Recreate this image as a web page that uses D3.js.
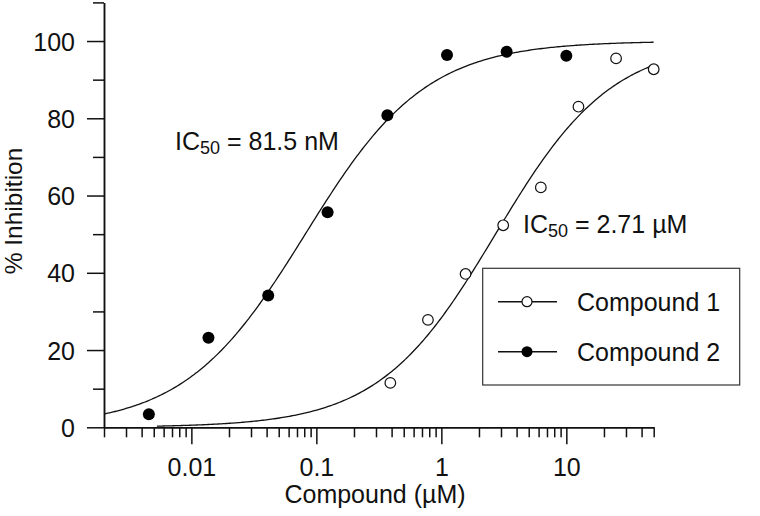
<!DOCTYPE html>
<html>
<head>
<meta charset="utf-8">
<script src="https://cdn.jsdelivr.net/npm/d3@7/dist/d3.min.js"></script>
<style>
  html, body { margin: 0; padding: 0; background: #fff; }
  svg { display: block; }
  text { font-family: "Liberation Sans", Arial, sans-serif; fill: #111; }
</style>
</head>
<body>
<svg id="chart" width="760" height="516"></svg>
<script>
// ---- data ----
const seriesNames = ["Compound 1", "Compound 2"];
const conc1 = [0.390625, 0.78125, 1.5625, 3.125, 6.25, 12.5, 25, 50];
const inhib1 = [11.5, 27.8, 39.7, 52.3, 62.1, 83.0, 95.5, 92.7];
const conc2 = [0.00457, 0.0137, 0.0412, 0.123, 0.370, 1.11, 3.33, 10];
const inhib2 = [3.4, 23.2, 34.1, 55.7, 80.8, 96.4, 97.2, 96.2];
// fitted dose-response parameters (IC50 in µM, Hill slope, fit range)
const fitIC50 = [2.71, 0.0815];
const fitHill = [0.93, 0.90];
const fitFrom = [0.0053, 0.002];
const fitTo = [50, 50];
const ic50Labels = [["IC", "50", " = 2.71 µM"], ["IC", "50", " = 81.5 nM"]];
const xMajorTicks = [0.01, 0.1, 1, 10];
const xTickLabels = ["0.01", "0.1", "1", "10"];
const yMajorTicks = [0, 20, 40, 60, 80, 100];
const yMinorTicks = [10, 30, 50, 70, 90, 110];

const svg = d3.select("#chart");
const x = d3.scaleLog().domain([0.002, 50]).range([104, 653.7]);
const y = d3.scaleLinear().domain([0, 110]).range([427.3, 2.4]);

// minor x ticks: 2..9 of each decade within the domain
const xMinorTicks = [];
[0.001, 0.01, 0.1, 1, 10].forEach(d => {
  for (let k = 2; k <= 9; k++) {
    const v = +(d * k).toPrecision(3);
    if (v >= 0.002 - 1e-9 && v <= 50 + 1e-9) xMinorTicks.push(v);
  }
});

const axisStyle = g => {
  g.selectAll("path, line").attr("stroke", "#111").attr("stroke-width", 1.5);
  g.selectAll("text").attr("font-size", 25).attr("fill", "#111")
    .attr("font-family", '"Liberation Sans", Arial, sans-serif');
};

// x axis
svg.append("g").attr("transform", `translate(0,${y(0)})`)
  .call(d3.axisBottom(x).tickValues(xMinorTicks).tickSize(10).tickSizeOuter(0).tickFormat(""))
  .call(axisStyle);
const gx = svg.append("g").attr("transform", `translate(0,${y(0)})`)
  .call(d3.axisBottom(x).tickValues(xMajorTicks).tickSize(17).tickSizeOuter(0)
    .tickFormat((d, i) => xTickLabels[i]))
  .call(axisStyle);
gx.selectAll("text").attr("y", 49).attr("dy", 0);

// y axis
svg.append("g").attr("transform", `translate(${x(0.002)},0)`)
  .call(d3.axisLeft(y).tickValues(yMinorTicks).tickSize(11).tickSizeOuter(0).tickFormat(""))
  .call(axisStyle);
const gy = svg.append("g").attr("transform", `translate(${x(0.002)},0)`)
  .call(d3.axisLeft(y).tickValues(yMajorTicks).tickSize(17).tickPadding(12).tickSizeOuter(0))
  .call(axisStyle);
gy.selectAll("text").attr("dy", "0.36em");

// axis titles
svg.append("text").attr("x", 375).attr("y", 503).attr("text-anchor", "middle")
  .attr("font-size", 25).text("Compound (µM)");
svg.append("text").attr("transform", "translate(22,211) rotate(-90)")
  .attr("text-anchor", "middle").attr("font-size", 24.5).text("% Inhibition");

// fitted curves
const line = d3.line().x(d => x(d[0])).y(d => y(d[1]));
[0, 1].forEach(i => {
  const lo = Math.log10(fitFrom[i]), hi = Math.log10(fitTo[i]);
  const pts = d3.range(0, 301).map(k => {
    const c = Math.pow(10, lo + (hi - lo) * k / 300);
    return [c, 100 / (1 + Math.pow(fitIC50[i] / c, fitHill[i]))];
  });
  svg.append("path").attr("d", line(pts)).attr("fill", "none")
    .attr("stroke", "#111").attr("stroke-width", 1.3);
});

// data points
const pts1 = conc1.map((c, i) => [c, inhib1[i]]);
const pts2 = conc2.map((c, i) => [c, inhib2[i]]);
svg.append("g").selectAll("circle").data(pts2).join("circle")
  .attr("cx", d => x(d[0])).attr("cy", d => y(d[1])).attr("r", 6)
  .attr("fill", "#000");
svg.append("g").selectAll("circle").data(pts1).join("circle")
  .attr("cx", d => x(d[0])).attr("cy", d => y(d[1])).attr("r", 5.3)
  .attr("fill", "#fff").attr("stroke", "#111").attr("stroke-width", 1.2);

// IC50 annotations
const labelPos = [[523, 233], [175, 150]];
[0, 1].forEach(i => {
  const t = svg.append("text").attr("x", labelPos[i][0]).attr("y", labelPos[i][1])
    .attr("font-size", 25);
  t.append("tspan").text(ic50Labels[i][0]);
  t.append("tspan").attr("font-size", 18).attr("dy", 4).text(ic50Labels[i][1]);
  t.append("tspan").attr("dy", -4).text(ic50Labels[i][2]);
});

// legend
const lg = svg.append("g");
lg.append("rect").attr("x", 482.7).attr("y", 268.3).attr("width", 257).attr("height", 116.7)
  .attr("fill", "#fff").attr("stroke", "#333").attr("stroke-width", 1.2);
const rows = [301.7, 351.7];
seriesNames.forEach((name, i) => {
  lg.append("line").attr("x1", 498).attr("x2", 557).attr("y1", rows[i]).attr("y2", rows[i])
    .attr("stroke", "#111").attr("stroke-width", 1.5);
  const c = lg.append("circle").attr("cx", 527).attr("cy", rows[i]);
  if (i === 0) c.attr("r", 5).attr("fill", "#fff").attr("stroke", "#111").attr("stroke-width", 1.2);
  else c.attr("r", 5.5).attr("fill", "#000");
  lg.append("text").attr("x", 577).attr("y", rows[i] + 9).attr("font-size", 25).text(name);
});
</script>
</body>
</html>
